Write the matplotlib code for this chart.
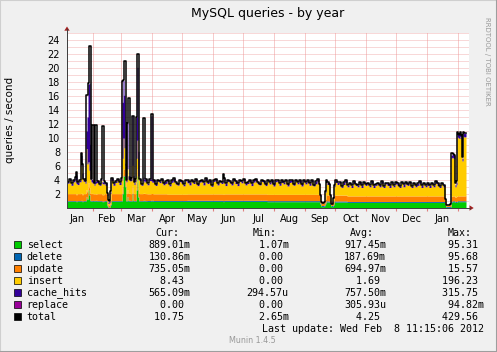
import numpy as np
import matplotlib
matplotlib.use('Agg')
import matplotlib.pyplot as plt
from matplotlib.patches import Rectangle, Polygon
from matplotlib.lines import Line2D

W, H = 497, 352

# days counted from 1 Jan 2011, one sample per day
first_day, last_day = 5, 403

# slowly varying series, one value per 20 days
select_20d = [0.95, 0.95, 0.95, 0.95, 0.95, 0.95, 0.95, 0.95, 0.95, 0.95,
              0.9, 0.9, 0.9, 0.85, 0.8, 0.8, 0.8, 0.8, 0.8, 0.89]
delete_20d = [0.1, 0.1, 0.1, 0.1, 0.12, 0.12, 0.15, 0.15, 0.15, 0.15,
              0.15, 0.15, 0.15, 0.15, 0.13, 0.13, 0.13, 0.13, 0.13, 0.131]
update_20d = [1.0, 1.0, 1.0, 1.0, 0.95, 0.9, 0.9, 0.9, 0.9, 0.9,
              0.9, 0.9, 0.9, 0.85, 0.8, 0.8, 0.8, 0.8, 0.8, 0.735]
replace_20d = [0.0] * 20

# one value per 2 days
insert_2d = [1.5, 1.9, 1.2, 1.7, 2.0, 1.3, 1.7, 1.1, 1.8, 1.5, 1.9, 1.3, 1.7, 1.2, 1.8, 1.6, 1.2, 1.9, 1.5, 1.2,
             1.8, 1.5, 1.9, 1.2, 1.6, 1.9, 1.3, 1.9, 1.5, 1.7, 1.2, 1.8, 1.9, 1.3, 1.7, 1.5, 1.9, 1.2, 1.6, 1.8,
             1.3, 1.9, 1.5, 1.7, 1.2, 1.8, 1.6, 1.9, 1.3, 1.5, 1.8, 1.2, 1.7, 1.9, 1.5, 1.3, 1.8, 1.6, 1.2, 1.9,
             1.6, 1.3, 1.8, 1.5, 1.9, 1.2, 1.7, 1.8, 1.3, 1.9, 1.5, 1.7, 1.1, 1.8, 1.9, 1.3, 1.7, 1.5, 1.9, 1.2,
             1.8, 1.6, 1.3, 1.9, 1.5, 1.2, 1.8, 1.6, 1.9, 1.3, 1.5, 1.8, 1.2, 1.7, 1.9, 1.5, 1.3, 1.8, 1.6, 1.2,
             1.9, 1.5, 1.7, 1.2, 1.8, 1.9, 1.3, 1.7, 1.5, 1.9, 1.2, 1.7, 1.8, 1.3, 1.9, 1.5, 1.7, 1.2, 1.8, 1.5,
             1.7, 1.3, 1.8, 1.2, 1.5, 1.8, 1.3, 1.7, 1.2, 1.8, 1.5, 1.3, 1.7, 1.2, 1.8, 1.5, 1.7, 1.1, 1.5, 1.8,
             1.3, 1.7, 1.2, 1.8, 1.5, 1.3, 1.7, 1.2, 1.8, 1.5, 1.7, 1.3, 1.8, 1.2, 1.5, 1.7, 1.3, 1.8, 1.2, 1.7,
             1.5, 1.2, 1.8, 1.3, 1.7, 1.5, 1.2, 1.8, 1.3, 1.7, 1.5, 1.8, 1.2, 1.7, 1.3, 1.5, 1.8, 1.2, 1.7, 1.3,
             1.5, 1.2, 1.7, 1.3, 1.8, 1.5, 1.2, 1.7, 1.3, 1.5, 1.8, 1.3, 1.7, 1.5, 1.4, 1.6, 1.5, 1.5, 1.6, 1.5]
# one value per 4 days
cache_4d = [0.2, 0.3, 0.35, 0.2, 0.3, 0.2, 0.35, 0.25, 0.2, 0.35,
            0.2, 0.3, 0.2, 0.35, 0.25, 0.2, 0.3, 0.35, 0.2, 0.3,
            0.2, 0.35, 0.25, 0.2, 0.3, 0.2, 0.35, 0.2, 0.3, 0.2,
            0.35, 0.2, 0.3, 0.2, 0.35, 0.25, 0.2, 0.3, 0.2, 0.35,
            0.2, 0.3, 0.35, 0.2, 0.3, 0.2, 0.35, 0.25, 0.2, 0.3,
            0.2, 0.35, 0.2, 0.3, 0.2, 0.35, 0.25, 0.2, 0.35, 0.2,
            0.3, 0.2, 0.35, 0.2, 0.3, 0.35, 0.2, 0.3, 0.2, 0.35,
            0.2, 0.3, 0.2, 0.35, 0.25, 0.2, 0.35, 0.2, 0.3, 0.2,
            0.35, 0.2, 0.3, 0.2, 0.35, 0.25, 0.2, 0.3, 0.35, 0.2,
            0.3, 0.2, 0.35, 0.2, 0.3, 0.5, 0.5, 0.5, 0.5, 0.5]

# single days that stand out (spikes and dips)
ov_days = [14, 19, 20, 24, 25, 26, 27, 28, 30, 31, 33, 34, 40, 41,
           45, 46, 47, 48,
           60, 61, 62, 63, 65, 66, 67, 70, 71, 74, 75, 76, 81, 82, 89, 90,
           161,
           258, 259, 260, 261, 262, 263, 268, 269, 270, 271,
           383, 384, 385, 386, 387, 388, 389, 390, 391, 392, 393, 394,
           395, 396, 397, 398, 399, 400, 401, 402, 403]
ov_select = [0.9, 1.0, 0.9, 1.5, 1.2, 2.5, 1.8, 1.0, 1.0, 1.0, 1.0, 1.0, 0.9, 0.9,
             0.3, 0.05, 0.05, 0.4,
             2.0, 4.5, 4.5, 3.0, 1.5, 1.0, 1.0, 2.0, 1.0, 2.5, 4.5, 1.5, 1.0, 1.0, 1.0, 1.0,
             0.9,
             0.5, 0.2, 0.2, 0.2, 0.3, 0.6, 0.5, 0.2, 0.2, 0.4,
             0.4, 0.1, 0.1, 0.1, 0.1, 0.1, 0.8, 0.9, 0.9, 0.9, 0.8, 0.8,
             0.9, 0.9, 0.9, 0.9, 0.9, 0.9, 0.9, 0.9, 0.889]
ov_update = [0.9, 1.0, 0.9, 1.0, 1.0, 1.0, 1.0, 1.0, 1.0, 0.9, 0.9, 0.9, 0.9, 0.9,
             0.6, 0.3, 0.3, 0.6,
             1.0, 1.0, 1.0, 1.0, 1.0, 1.0, 1.0, 1.0, 1.0, 1.0, 1.0, 1.0, 1.0, 1.0, 0.95, 0.95,
             0.9,
             0.4, 0.3, 0.3, 0.3, 0.3, 0.5, 0.4, 0.3, 0.3, 0.4,
             0.4, 0.2, 0.2, 0.2, 0.2, 0.2, 0.7, 0.7, 0.7, 0.7, 0.6, 0.7,
             0.7, 0.7, 0.7, 0.7, 0.7, 0.7, 0.7, 0.7, 0.735]
ov_insert = [1.6, 3.9, 2.3, 5.9, 4.0, 3.0, 2.5, 2.0, 1.5, 1.6, 1.5, 1.6, 1.6, 1.5,
             0.8, 0.2, 0.3, 1.0,
             4.0, 4.4, 3.0, 2.0, 3.0, 2.0, 2.0, 3.0, 2.0, 3.5, 4.1, 2.0, 1.8, 1.6, 1.8, 1.6,
             1.7,
             0.6, 0.1, 0.1, 0.1, 0.2, 1.0, 0.6, 0.1, 0.1, 0.5,
             0.3, 0.05, 0.05, 0.05, 0.05, 0.1, 5.5, 5.5, 5.4, 5.3, 1.5, 1.7,
             8.4, 8.3, 8.2, 8.5, 8.2, 5.0, 8.5, 8.4, 8.43]
ov_cache = [1.2, 1.5, 0.8, 2.5, 6.7, 11.1, 12.4, 5.0, 0.5, 0.3, 0.3, 0.4, 0.3, 0.3,
            0.2, 0.2, 0.2, 0.2,
            8.0, 8.2, 7.5, 0.3, 6.6, 0.5, 0.5, 7.0, 0.5, 5.9, 10.4, 3.5, 0.5, 0.4, 9.3, 0.4,
            0.3,
            0.2, 0.1, 0.1, 0.1, 0.1, 0.2, 0.2, 0.1, 0.1, 0.2,
            0.1, 0.05, 0.05, 0.05, 0.05, 0.05, 0.4, 0.5, 0.5, 0.5, 0.3, 0.4,
            0.5, 0.5, 0.5, 0.5, 0.5, 0.4, 0.5, 0.5, 0.565]
ov_total = [5.2, 7.9, 6.3, 16.1, 16.1, 17.8, 23.1, 23.1, 11.9, 11.9, 11.9, 11.9, 11.7, 11.7,
            2.1, 1.2, 1.0, 2.4,
            18.1, 18.3, 21.0, 21.0, 12.2, 15.7, 15.7, 13.1, 13.1, 13.0, 22.0, 22.0, 12.9, 12.9, 13.4, 13.4,
            4.9,
            1.9, 0.8, 0.7, 0.7, 0.9, 2.5, 1.8, 0.6, 0.6, 1.5,
            1.3, 0.5, 0.4, 0.4, 0.5, 0.6, 7.8, 7.9, 7.7, 7.6, 3.6, 3.8,
            10.9, 10.6, 10.5, 10.8, 10.5, 7.3, 10.8, 10.7, 10.75]

names = ['select', 'delete', 'update', 'insert', 'cache_hits', 'replace', 'total']
colors = ['#00CC00', '#0066B3', '#FF8000', '#FFCC00', '#330099', '#990099', '#000000']
cur_txt = ['889.01m', '130.86m', '735.05m', '  8.43 ', '565.09m', '  0.00 ', ' 10.75 ']
min_txt = ['  1.07m', '  0.00 ', '  0.00 ', '  0.00 ', '294.57u', '  0.00 ', '  2.65m']
avg_txt = ['917.45m', '187.69m', '694.97m', '  1.69 ', '757.50m', '305.93u', '  4.25 ']
max_txt = [' 95.31 ', ' 95.68 ', ' 15.57 ', '196.23 ', '315.75 ', ' 94.82m', '429.56 ']

month_names = ['Jan', 'Feb', 'Mar', 'Apr', 'May', 'Jun', 'Jul', 'Aug', 'Sep',
               'Oct', 'Nov', 'Dec', 'Jan']
month_starts = [0, 31, 59, 90, 120, 151, 181, 212, 243, 273, 304, 334, 365, 396]

# ---- build daily series
n = last_day - first_day + 1
sel = np.repeat(select_20d, 20)[:n].astype(float)
dele = np.repeat(delete_20d, 20)[:n].astype(float)
upd = np.repeat(update_20d, 20)[:n].astype(float)
rep = np.repeat(replace_20d, 20)[:n].astype(float)
ins = np.repeat(insert_2d, 2)[:n].astype(float)
cac = np.repeat(cache_4d, 4)[:n].astype(float)
for i, d in enumerate(ov_days):
    k = d - first_day
    sel[k] = ov_select[i]
    upd[k] = ov_update[i]
    ins[k] = ov_insert[i]
    cac[k] = ov_cache[i]
tot = sel + dele + upd + ins + cac + rep
for i, d in enumerate(ov_days):
    tot[d - first_day] = ov_total[i]

fig = plt.figure(figsize=(W / 100, H / 100), dpi=100, facecolor='#F0F0F0')


def fx(x):
    return x / W


def fy(y):
    return 1 - y / H


ax = fig.add_axes([fx(67), fy(208), 402 / W, 175 / H])
ax.set_facecolor('white')
ax.set_xlim(5, 407)
ax.set_ylim(0, 25)

grid_c = '#F3B2B2'
for v in range(1, 26):
    ax.axhline(v, color=grid_c, lw=0.72, ls=(0, (1, 1)), zorder=0)
for m in month_starts[1:]:
    ax.axvline(m, color='#EE9A9A', lw=0.72, ls=(0, (1, 1)), zorder=0)

xe = np.arange(first_day, last_day + 2)


def ext(a):
    return np.append(a, a[-1])


base = np.zeros(n)
for vals, c in zip([sel, dele, upd, ins, cac, rep], colors[:6]):
    top = base + vals
    ax.fill_between(xe, ext(base), ext(top), step='post', color=c, lw=0, zorder=2)
    base = top
ax.step(xe, ext(tot), where='post', color='black', lw=1.1, zorder=3)

for s in ['top', 'right']:
    ax.spines[s].set_visible(False)
for s in ['left', 'bottom']:
    ax.spines[s].set_color('#404040')
    ax.spines[s].set_linewidth(0.72)
    ax.spines[s].set_zorder(4)

ax.set_yticks(range(2, 25, 2))
ax.set_yticklabels([str(v) for v in range(2, 25, 2)], fontsize=7)
ax.set_xticks(month_starts[1:])
ax.set_xticklabels([])
mids = [(month_starts[i] + month_starts[i + 1]) / 2 for i in range(13)]
ax.set_xticks(mids, minor=True)
ax.set_xticklabels(month_names, minor=True, fontsize=7)
ax.tick_params(axis='x', which='major', length=2, color='#E08080')
ax.tick_params(axis='x', which='minor', length=0, pad=4)
ax.tick_params(axis='y', length=0, pad=5)

# axis arrows
fig.add_artist(Line2D([fx(67), fx(67)], [fy(33), fy(29)], color='#404040', lw=0.72))
fig.add_artist(Line2D([fx(469), fx(470)], [fy(208), fy(208)], color='#404040', lw=0.72))
arrow_c = '#A02020'
fig.add_artist(Polygon([[fx(64.3), fy(30.7)], [fx(69.7), fy(30.7)], [fx(67), fy(26.5)]],
                       closed=True, color=arrow_c, lw=0))
fig.add_artist(Polygon([[fx(469.5), fy(205.3)], [fx(469.5), fy(210.7)], [fx(473.7), fy(208)]],
                       closed=True, color=arrow_c, lw=0))

fig.text(fx(268), fy(14), 'MySQL queries - by year', ha='center', va='center', fontsize=9)
fig.text(fx(10), fy(120), 'queries / second', rotation=90, ha='center', va='center', fontsize=7.5)
fig.text(fx(486.5), fy(61.5), 'RRDTOOL / TOBI OETIKER', rotation=-90, ha='center', va='center',
         fontsize=5, color='#999999')

mono = 'DejaVu Sans Mono'
fs = 7.2
for x, t in [(155, 'Cur:'), (252.7, 'Min:'), (350, 'Avg:'), (447.3, 'Max:')]:
    fig.text(fx(x), fy(232.5), t, ha='left', va='center', family=mono, fontsize=fs)
for i, name in enumerate(names):
    y = 244.5 + 12 * i
    fig.add_artist(Rectangle((fx(13.5), fy(y + 3.5)), 7 / W, 7 / H, facecolor=colors[i],
                             edgecolor='black', lw=0.5, transform=fig.transFigure))
    fig.text(fx(26.7), fy(y), name, ha='left', va='center', family=mono, fontsize=fs)
    fig.text(fx(148.3), fy(y), cur_txt[i], ha='left', va='center', family=mono, fontsize=fs)
    fig.text(fx(246.7), fy(y), min_txt[i], ha='left', va='center', family=mono, fontsize=fs)
    fig.text(fx(344), fy(y), avg_txt[i], ha='left', va='center', family=mono, fontsize=fs)
    fig.text(fx(442.3), fy(y), max_txt[i], ha='left', va='center', family=mono, fontsize=fs)
fig.text(fx(261.7), fy(328.8), 'Last update: Wed Feb  8 11:15:06 2012', ha='left', va='center',
         family=mono, fontsize=fs)
fig.text(fx(252), fy(340.5), 'Munin 1.4.5', ha='center', va='center', fontsize=5.8, color='#999999')

# image border
fig.add_artist(Line2D([0, 0, 1], [0, 1, 1], color='#CFCFCF', lw=1.5, transform=fig.transFigure))
fig.add_artist(Line2D([0, 1, 1], [0, 0, 1], color='#9E9E9E', lw=1.5, transform=fig.transFigure))

fig.savefig('out.png', dpi=100, facecolor=fig.get_facecolor())
